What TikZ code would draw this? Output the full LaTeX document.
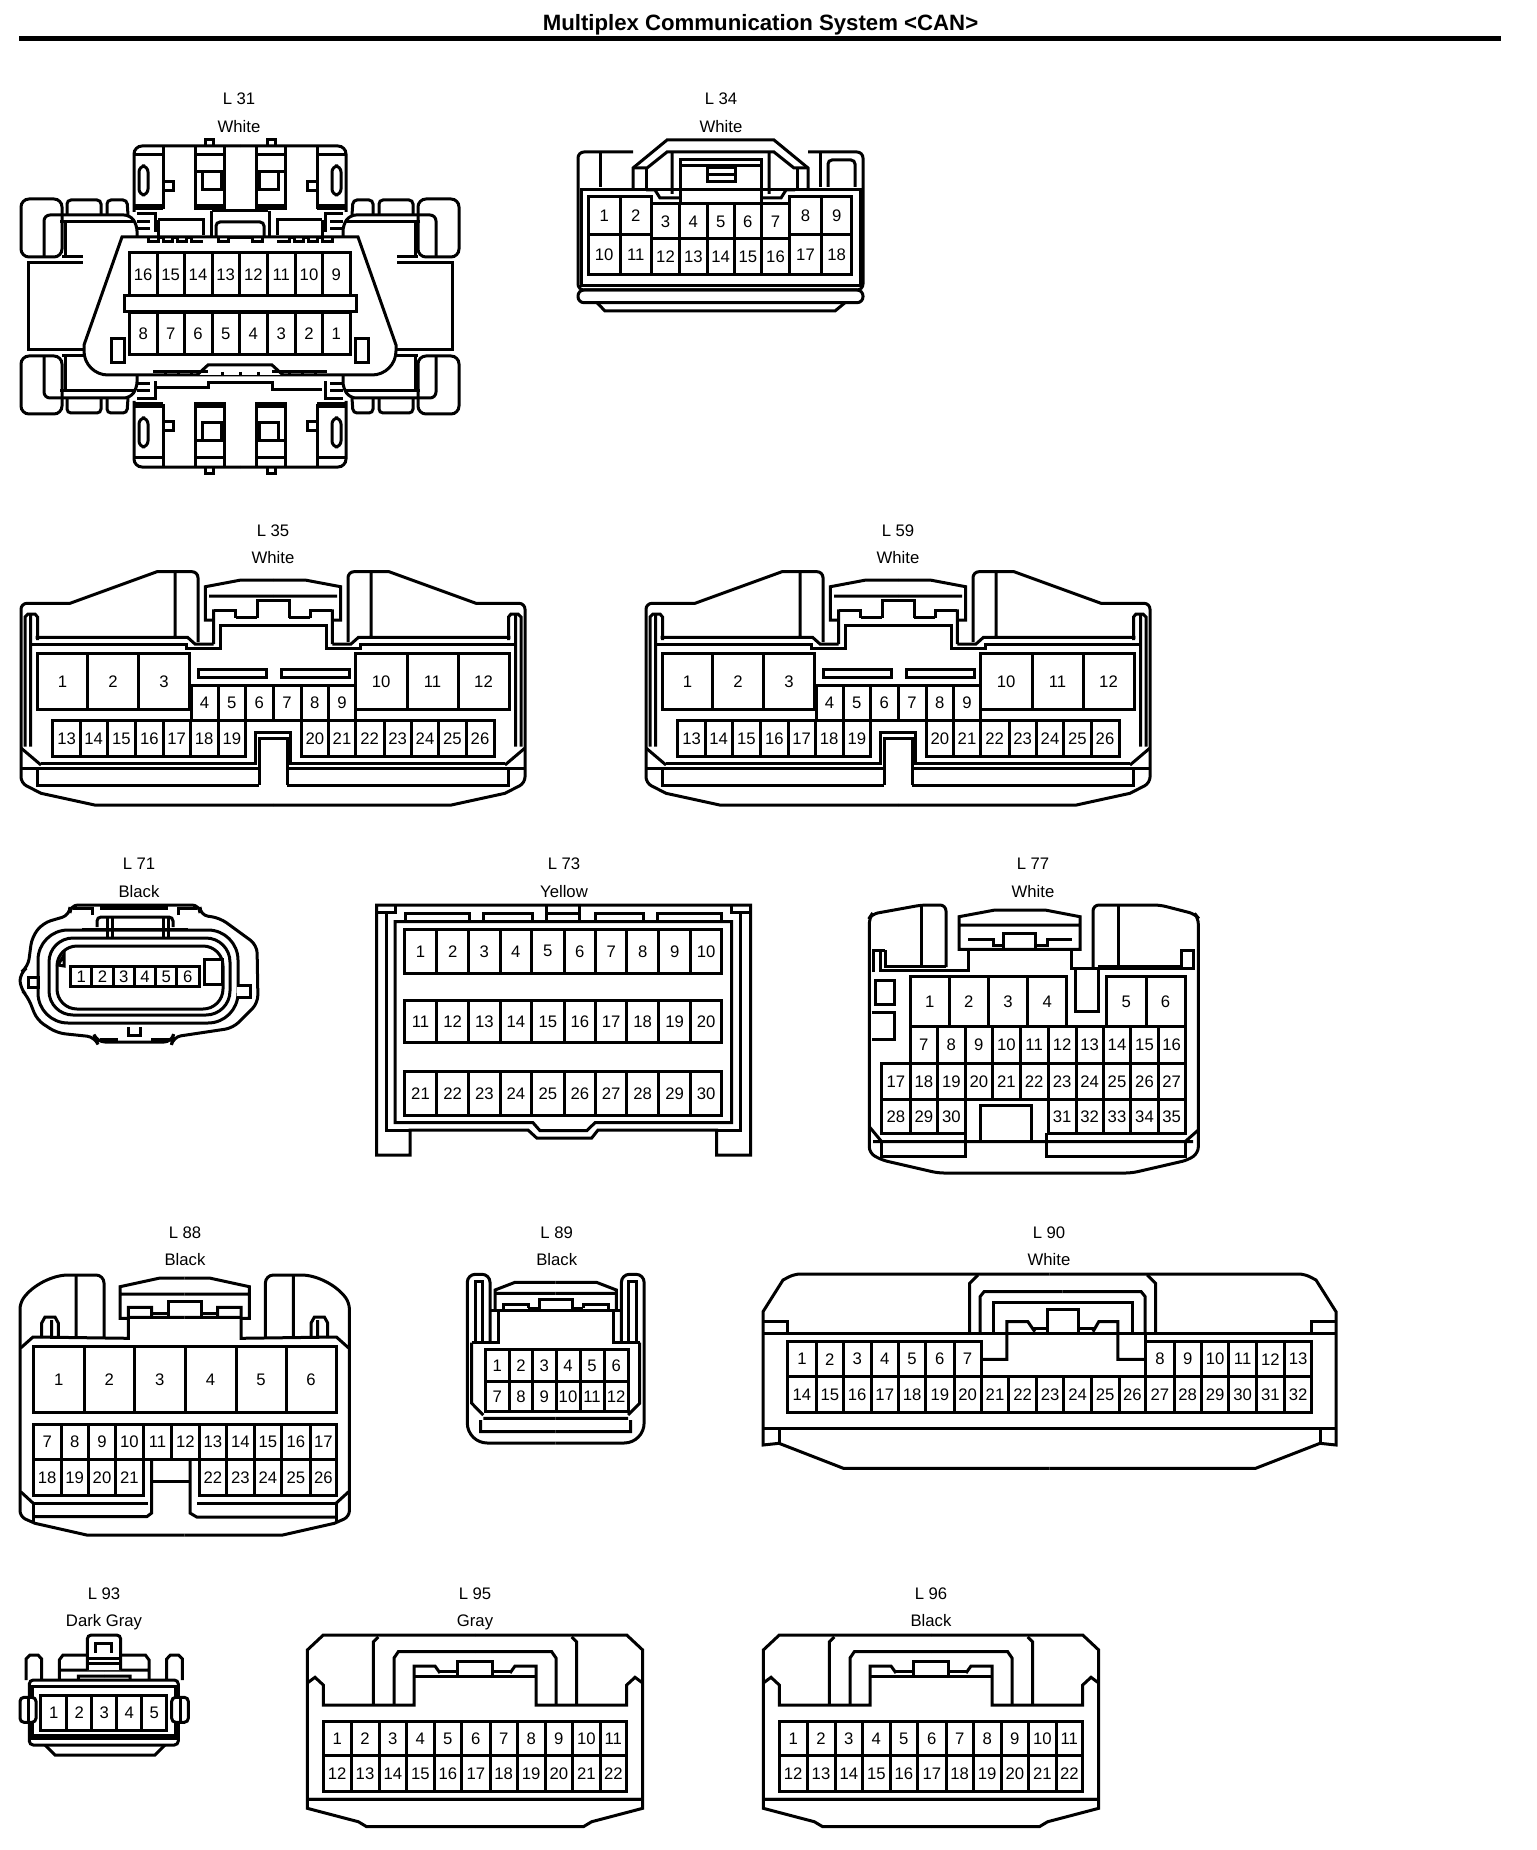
\documentclass[tikz,border=0pt]{standalone}
\usepackage{fontspec}
\setmainfont{Liberation Sans}
\tikzset{
  wire/.style={line width=1.5pt, line join=miter},
  pin/.style={draw, rectangle, inner sep=0pt, line width=1.5pt, font=\fontsize{8.35}{10}\selectfont},
  tagtext/.style={anchor=base, inner sep=0pt, font=\fontsize{8.35}{10}\selectfont},
}
% one row of pins: name, top, bottom, first number, cell borders
\newcommand{\pins}[6][1]{%
  \foreach \xb [remember=\xb as \xa (initially 0), count=\k from 0] in {#6} {
    \ifnum\k>0
      \pgfmathtruncatemacro{\num}{#5+#1*(\k-1)}
      \node[pin, minimum width={(\xb-\xa)*0.5pt}, minimum height={(#4-#3)*0.5pt}]
        (#2p\num) at ({(\xa+\xb)/2},{(#3+#4)/2}) {\num};
    \fi
  }
}
% connector number and housing colour
\newcommand{\conntag}[5]{%
  \node[tagtext] (#1name) at (#4,#5) {#2};
  \node[tagtext] (#1col) at (#4,#5+27.4) {#3};
}
% a path and its mirror image about x = #1
\newcommand{\twin}[2]{%
  \draw[wire] #2;
  \begin{scope}[shift={(2*#1,0)},xscale=-1]
    \draw[wire] #2;
  \end{scope}
}
% L31, upper left quarter
\newcommand{\quarterLthree}{%
  \draw[wire,rounded corners=4pt] (62,257) -- (21,257) -- (21,199) -- (62,199) -- cycle;
  \draw[wire,rounded corners=2pt] (67,215) -- (67,200) -- (101,200) -- (101,215);
  \draw[wire,rounded corners=2pt] (107,215) -- (107,200) -- (127,200) -- (128,215);
  \draw[wire,rounded corners=3pt] (44,257) -- (44,215) -- (130,215) -- (137,225) -- (137,237);
  \draw[wire] (60,222) -- (135,222) (65,222) -- (65,257);
  \draw[wire] (28,306.5) -- (28,263) -- (83,263) (83,257) -- (62,257);
  \draw[wire,rounded corners=4pt] (134,212) -- (134,146) -- (240,146);
  % clip blocks
  \draw[wire] (134,155) -- (163,155) (163,146) -- (163,209) (134,209) -- (163,209) (134,206) -- (163,206);
  \draw[wire,rounded corners=3pt] (139,166) rectangle (148,195);
  \draw[wire] (163,182) -- (173,182) -- (173,191) -- (163,191);
  \draw[wire] (195,146) -- (195,209) -- (224,209) -- (224,146) (195,155) -- (224,155) (195,206) -- (224,206);
  \draw[wire] (195,172) -- (224,172) (202,172) -- (202,190) -- (221,190) -- (221,172);
  \draw[wire] (205,146) -- (205,140) -- (213,140) -- (213,146);
  % latch lines
  \draw[wire] (137,214) -- (155,214) -- (155,232) (137,222) -- (150,222) (137,229) -- (150,229);
}
% L35 and L59
\newcommand{\connWide}[3]{%
  \begin{scope}[shift={(#2,0)}]
    \conntag{#1}{#3}{White}{273}{536}
    \twin{273}{(273,805) -- (94.6,805) -- (41,793.3) [rounded corners=3pt] -- (21,783) -- (21,603.3) [sharp corners] -- (70,603.3) -- (157,571.7) [rounded corners=3pt] -- (198,571.7) -- (198,642)}
    \twin{273}{(175,571.7) -- (175,637) (35.7,637.3) -- (187.5,637.3) -- (195,644) -- (213.6,644) (213.6,609.3) -- (213.6,644)}
    \twin{273}{(31.4,644) -- (186,644) -- (186,648.3) -- (220,648.3) -- (220,625) -- (273,625)}
    \twin{273}{(25,746.7) -- (25,617) -- (28,614) -- (35,614) -- (37.5,617) -- (37.5,640) (30.5,615) -- (30.5,746.7)}
    \twin{273}{(21,748) -- (41,765)}
    % lock
    \twin{273}{(273,580) -- (241,580) -- (205.4,586.7) -- (205.4,620) -- (213.6,620) (209,596) -- (273,596)}
    \twin{273}{(213.6,610) -- (235.7,610) -- (235.7,618.3) (235.7,617.3) -- (257,617.3) (273,600) -- (257,600) -- (257,618)}
    % notch and base
    \twin{273}{(41,763.3) -- (255.4,763.3) -- (255.4,732.7) -- (273,732.7) (259,785) -- (259,738.3) -- (273,738.3)}
    \twin{273}{(37.5,770) -- (37.5,785) -- (259,785) (21,768.3) -- (259,768.3)}
    \draw[wire] (198,669) rectangle (266,677.7) (281,669) rectangle (349,677.7);
    \draw[wire] (189.3,685) -- (355.4,685);
    \pins{#1}{653.3}{709.3}{1}{37.5,87.5,138.6,189.3}
    \pins{#1}{653.3}{709.3}{10}{355.4,407,458,509}
    \pins{#1}{685.7}{720}{4}{191,218,245.7,273,301,328.6,355.4}
    \pins{#1}{720}{756.7}{13}{52.9,80.4,107,135.7,163,190.4,218,245.7}
    \pins{#1}{720}{756.7}{20}{301,328.6,355.4,384,411.4,438.6,466,494}
  \end{scope}
}
% L95 and L96
\newcommand{\connSlim}[4]{%
  \begin{scope}[shift={(#2,0)}]
    \conntag{#1}{#3}{#4}{475}{1599}
    \twin{475}{(475,1635) -- (323.3,1635) -- (307.3,1650) -- (307.3,1808.3) -- (358.3,1821.7) -- (366.7,1826.7) -- (475,1826.7)}
    \twin{475}{(307.3,1799.3) -- (642.7,1799.3) (307.3,1683) -- (315,1677.3) -- (323.3,1685) -- (323.3,1705) -- (414,1705) -- (414,1666) -- (435,1666) -- (440,1673)}
    \twin{475}{(440,1671.7) -- (457.7,1671.7) (457.7,1676.7) -- (457.7,1661.7) -- (475,1661.7) (414,1676.7) -- (475,1676.7)}
    \twin{475}{(373.3,1705) -- (373.3,1642) -- (378.3,1637) (394,1705) -- (394,1658) -- (398.3,1651.7) -- (475,1651.7)}
    \pins{#1}{1721}{1755.7}{1}{323.3,351,379,406.7,434,461.7,490,517.3,545,572.7,600,626.7}
    \pins{#1}{1755.7}{1791}{12}{323.3,351,379,406.7,434,461.7,490,517.3,545,572.7,600,626.7}
  \end{scope}
}
\begin{document}
\begin{tikzpicture}[x=0.5pt,y=-0.5pt]
  \path[use as bounding box, fill=white] (0,0) rectangle (1536,1850);
  % title
  \node[font=\fontsize{11.1}{13}\selectfont\bfseries, inner sep=0pt] (title) at (760.5,25) {Multiplex Communication System <CAN>};
  \coordinate (ruleL) at (19,38.5);
  \coordinate (ruleR) at (1501,38.5);
  \draw[line width=2.4pt] (ruleL) -- (ruleR);

  % L31
  \conntag{L31}{L 31}{White}{239}{105}
  \foreach \mx/\my in {1/1,-1/1,1/-1,-1/-1} {
    \begin{scope}[shift={({240*(1-\mx)},{306.5*(1-\my)})},xscale=\mx,yscale=\my]
      \quarterLthree
    \end{scope}
  }
  \twin{240}{(212,211) -- (240,211) (211,211) -- (211,237) (158,220) -- (158,240) (158,220) -- (203,220) -- (203,235)}
  \draw[wire,rounded corners=2pt] (216,238) -- (216,222) -- (264,222) -- (264,238);
  \draw[wire,fill=white] (122,237) -- (358,237) -- (396,345) [rounded corners=12pt] -- (396,375) -- (84,375) [sharp corners] -- (84,345) -- cycle;
  \twin{240}{(148,237) -- (148,242) -- (158,242) -- (158,238) -- (163,238) -- (163,242) -- (172,242) -- (172,238) -- (177,238) -- (177,242) -- (186,242) -- (186,238) -- (191,238) -- (191,242) -- (203,242)}
  \twin{240}{(218,238) -- (218,242) -- (228,242) -- (228,238) -- (240,238)}
  \draw[wire,fill=white] (197,375) -- (208,365) -- (272,365) -- (283,375);
  \twin{240}{(153,372) -- (197,372) (197,372) -- (208,372)}
  \foreach \tick in {165,178,191,222,240,258,289,302,315} {
    \draw[wire] (\tick,372) -- (\tick,375);
  }
  \draw[wire] (157,388) -- (208,388) -- (208,383) -- (272,383) -- (272,390) -- (322,390);
  \draw[wire] (111,339) rectangle (124,363) (355,339) rectangle (368,363);
  \draw[wire,fill=white] (124,296) rectangle (356,312);
  \pins[-1]{L31}{253}{296}{16}{129,157.3,184,212,239.3,267.3,295.3,322.7,350}
  \pins[-1]{L31}{313}{355}{8}{129,157.3,184,212,239.3,267.3,295.3,322.7,350}

  % L34
  \conntag{L34}{L 34}{White}{721}{105}
  \draw[wire,rounded corners=3pt] (633,152) -- (578,152) -- (578,290) -- (863,290) -- (863,152) -- (808,152);
  \draw[wire,rounded corners=3pt] (578,290) rectangle (863,302.7);
  \draw[wire] (597,302.7) -- (605,311) -- (835,311) -- (845,302.7);
  \draw[wire] (581,190) rectangle (860,285.5);
  \draw[wire] (633,190) -- (633,168) -- (667,140) -- (774,140) -- (808,168) -- (808,190);
  \draw[wire] (633,168) -- (647,168) -- (667,152) -- (774,152) -- (794,168) -- (808,168);
  \draw[wire] (646,168) -- (646,190) (797,168) -- (797,190) (600,152) -- (600,187) (820,152) -- (820,187);
  \draw[wire,rounded corners=2pt] (828,187) -- (828,160) -- (855,160) -- (855,187);
  \twin{720.5}{(646,190) -- (655,190) -- (660,198) -- (680,198) (672,152) -- (672,194)}
  \draw[wire] (680,202) -- (680,160) -- (761,160) -- (761,202) (680,166) -- (761,166);
  \draw[wire] (707,168) rectangle (735,182) (707,175) -- (735,175);
  \draw[wire] (651.7,204) -- (789.3,204);
  \pins{L34}{196.7}{235}{1}{588.3,620,651.7}
  \pins{L34}{204}{239}{3}{651.7,679.3,707.3,734,761.7,789.3}
  \pins{L34}{196.7}{235}{8}{789.3,821.7,851.7}
  \pins{L34}{235}{275}{10}{588.3,620,651.7}
  \pins{L34}{239}{275}{12}{651.7,679.3,707.3,734,761.7,789.3}
  \pins{L34}{235}{275}{17}{789.3,821.7,851.7}

  % L35, L59
  \connWide{L35}{0}{L 35}
  \connWide{L59}{625}{L 59}

  % L71
  \conntag{L71}{L 71}{Black}{139}{869.9}
  \draw[wire,rounded corners=4pt] (70,915) -- (70,905) -- (200,905) -- (200,915) -- (220,918) -- (257,945) -- (258,1003) -- (233,1028) -- (173,1037) -- (172,1042) -- (97,1042) -- (95,1037) -- (57,1033) -- (37,1020) -- (28,997) -- (20,988) -- (20,973) -- (28,967) -- (32,937) -- (43,923) -- cycle;
  \draw[wire,rounded corners=15pt] (38,930) rectangle (238,1023);
  \draw[wire,rounded corners=12pt] (49,938) rectangle (230,1015);
  \draw[wire,rounded corners=10pt] (57,946) rectangle (223,1009);
  \draw[wire,fill=white] (237,985) -- (250,985) -- (250,997) -- (237,997);
  \draw[wire] (58,965) -- (64,955) -- (64,966) -- cycle;
  \draw[wire,rounded corners=2pt] (97,927) -- (97,917) -- (173,917) -- (173,927);
  \draw[wire] (83,930) -- (83,929) -- (186,929) -- (186,930) (107,917) -- (107,937) (112,917) -- (112,937) (163,917) -- (163,937) (168,917) -- (168,937);
  \draw[wire] (73,908) -- (92,908) -- (92,915) (178,915) -- (178,908) -- (197,908);
  \draw[line width=2.4pt] (100,908) -- (168,908);
  \draw[wire] (28,977) rectangle (38,987);
  \draw[wire,fill=white] (204,959) rectangle (222,984);
  \draw[wire] (128,1027) -- (128,1035) -- (140,1035) -- (140,1027);
  \draw[wire] (100,1039) -- (118,1039) (151,1039) -- (170,1039);
  \pins{L71}{966}{986.7}{1}{70.7,91.7,113.3,134.3,155.7,176.7,199}

  % L73
  \conntag{L73}{L 73}{Yellow}{564}{869.9}
  \draw[wire] (376.7,905) -- (750.7,905) -- (750.7,1155) -- (716.7,1155) -- (716.7,1130) -- (598,1130) -- (591.7,1138) -- (536.7,1138) -- (528,1130) -- (410,1130) -- (410,1155) -- (376.7,1155) -- cycle;
  \draw[wire] (376.7,912.7) -- (395,912.7) -- (395,905) (731.7,905) -- (731.7,912.7) -- (750.7,912.7) (386,913) -- (386,1130) -- (410,1130) (740.7,913) -- (740.7,1130) -- (716.7,1130);
  \draw[wire] (395,921.7) -- (731.7,921.7) -- (731.7,1122.7) -- (595,1122.7) -- (586.7,1130.7) -- (540,1130.7) -- (533,1122.7) -- (395,1122.7) -- cycle;
  \foreach \xa/\xb in {405/469.3,483.3/532.3,595/643.3,657.3/721.7} {
    \draw[wire] (\xa,921.7) -- (\xa,913.3) -- (\xb,913.3) -- (\xb,921.7);
  }
  \draw[wire] (546.7,905) -- (546.7,921.7) (579.3,905) -- (579.3,921.7) (546.7,913.3) -- (579.3,913.3);
  \pins{L73}{929.3}{973.3}{1}{404.3,436.7,468.7,500,531.7,564,595.7,626.7,658.7,690.7,721.7}
  \pins{L73}{1000.7}{1042.7}{11}{404.3,436.7,468.7,500,531.7,564,595.7,626.7,658.7,690.7,721.7}
  \pins{L73}{1071.7}{1115}{21}{404.3,436.7,468.7,500,531.7,564,595.7,626.7,658.7,690.7,721.7}

  % L77
  \conntag{L77}{L 77}{White}{1033}{869.9}
  \draw[wire,rounded corners=3pt] (946,967) -- (946,905) -- (921.7,905) -- (872,914) -- (869.3,918) -- (869.3,1153) -- (881.7,1160) -- (938,1173) -- (1131.7,1173) -- (1188,1160) -- (1198.3,1153) -- (1198.3,918) -- (1195,914) -- (1160,905) -- (1093,905) -- (1093,968);
  \draw[wire] (921.7,905) -- (921.7,966) (1118,905) -- (1118,966);
  \draw[wire] (959,949.3) -- (959,916.7) -- (995,910) -- (1045,910) -- (1080,916.7) -- (1080,949.3) -- cycle (959,925) -- (1080,925);
  \draw[wire] (968.3,949) -- (968.3,970) -- (880.7,970) -- (880.7,950) (885,950) -- (885,966) -- (946,966);
  \draw[wire] (873.3,972) -- (873.3,950) -- (885,950);
  \draw[wire] (968.3,939) -- (993,939) -- (993,947) (1071.7,939) -- (1047,939) -- (1047,947) (993,945) -- (1003,945) (1037,945) -- (1047,945);
  \draw[wire] (1003,949) -- (1003,933) -- (1035,933) -- (1035,949);
  \draw[wire] (1071.7,949) -- (1071.7,968.3) -- (1193.3,968.3) -- (1193.3,950) -- (1181.7,950) -- (1181.7,968) (1098,966) -- (1181.7,966);
  \draw[wire] (1075,968.3) -- (1075,1011.7) -- (1098,1011.7) -- (1098,968.3);
  \draw[wire] (875,980.7) rectangle (894,1004);
  \draw[wire] (871.7,1012.7) -- (894,1012.7) -- (894,1039) -- (871.7,1039);
  \draw[wire] (1066.7,1026.7) -- (1106.7,1026.7);
  \draw[wire] (980.7,1141.7) -- (980.7,1105) -- (1031.7,1105) -- (1031.7,1141.7);
  \draw[wire] (873,1141.7) -- (1193,1141.7) (869.3,1126.7) -- (881.7,1141.7) (1198.3,1130) -- (1185,1141.7);
  \draw[wire] (881.7,1143) -- (881.7,1156.7) -- (965,1156.7) -- (965,1133) (1046.7,1133) -- (1046.7,1156.7) -- (1185,1156.7) -- (1185,1141.7);
  \draw[wire] (965,1099.3) -- (1046.7,1099.3);
  \pins{L77}{976.7}{1026.7}{1}{910,949.3,988.3,1027.7,1066.7}
  \pins{L77}{976.7}{1026.7}{5}{1106.7,1146,1185}
  \pins{L77}{1026.7}{1063.3}{7}{910,937.7,965,992.7,1020,1048.3,1076,1103.3,1130.7,1158.3,1185}
  \pins{L77}{1063.3}{1099.3}{17}{881.7,910,937.7,965,992.7,1020,1048.3,1076,1103.3,1130.7,1158.3,1185}
  \pins{L77}{1099.3}{1133.3}{28}{881.7,910,937.7,965}
  \pins{L77}{1099.3}{1133.3}{31}{1048.3,1076,1103.3,1130.7,1158.3,1185}

  % L88
  \conntag{L88}{L 88}{Black}{185}{1238.2}
  \twin{184.7}{(184.7,1535) -- (86.7,1535) -- (35,1523.3) [rounded corners=3pt] -- (20,1516.7) -- (20,1303) [rounded corners=14pt] -- (40,1275) [rounded corners=4pt] -- (104,1275) -- (104,1338)}
  \twin{184.7}{(76,1275) -- (76,1338) (20.7,1348) -- (33,1337) -- (128.3,1338.3) -- (128.3,1307.3) -- (151.7,1307.3) -- (151.7,1317)}
  \twin{184.7}{(41.7,1338) -- (41.7,1323) -- (45,1317) -- (55,1317) -- (58.3,1323) -- (58.3,1338) (51.7,1320) -- (51.7,1338)}
  \twin{184.7}{(184.7,1278) -- (160,1278) -- (120,1286.7) -- (120,1318.3) -- (128.3,1318.3) (120,1294) -- (184.7,1294) (128,1317.3) -- (184.7,1317.3)}
  \twin{184.7}{(151.7,1313.3) -- (168.3,1313.3) (168.3,1317) -- (168.3,1301.7) -- (184.7,1301.7)}
  \draw[wire] (151.7,1460) -- (151.7,1513) -- (146.7,1516.7) -- (35,1516.7);
  \draw[wire] (190,1460) -- (190,1513) -- (196.7,1517) -- (336,1517);
  \draw[wire] (151.7,1481.7) -- (190,1481.7);
  \draw[wire] (33.3,1523) -- (33.3,1503.3) -- (148,1503.3) (336,1523) -- (336,1503.3) -- (196.7,1503.3);
  \draw[wire] (20.7,1491.7) -- (33.3,1503.3) (348.7,1491.7) -- (336,1503.3);
  \pins{L88}{1346}{1412.7}{1}{33.3,84,134.3,185,236,286,336}
  \pins{L88}{1424.3}{1459.3}{7}{33.3,61,88.3,115.7,143.3,171.7,199,226.7,254,281.7,310,336.7}
  \pins{L88}{1459.3}{1495.7}{18}{33.3,61,88.3,115.7,143.3}
  \pins{L88}{1459.3}{1495.7}{22}{199,226.7,254,281.7,310,336.7}

  % L89
  \conntag{L89}{L 89}{Black}{556.7}{1238.2}
  \twin{555.7}{(555.7,1443) -- (490,1443) [rounded corners=10pt] -- (467.3,1443) [rounded corners=4pt] -- (467.3,1274.3) -- (490,1274.3) -- (490,1342.7)}
  \twin{555.7}{(475,1342) -- (475,1281.7) -- (482.7,1281.7) -- (482.7,1342) (471.7,1342.7) -- (498,1342.7) -- (498,1310) (490,1310) -- (555.7,1310)}
  \twin{555.7}{(555.7,1282.3) -- (515,1282.3) -- (495,1290) -- (495,1310) (495,1293.3) -- (555.7,1293.3)}
  \twin{555.7}{(503.3,1310) -- (503.3,1304) -- (528.3,1304) -- (528.3,1308) (528.3,1308) -- (539.3,1308) (539.3,1310) -- (539.3,1299) -- (555.7,1299)}
  \twin{555.7}{(471.7,1342.7) -- (471.7,1403.3) -- (483.3,1415) (480.7,1420) -- (480.7,1431.7) -- (555.7,1431.7) (483.3,1418.3) -- (555.7,1418.3)}
  \pins{L89}{1349.3}{1381.7}{1}{485,509.3,532.7,556,580,604,628.3}
  \pins{L89}{1381.7}{1411.7}{7}{485,509.3,532.7,556,580,604,628.3}

  % L90
  \conntag{L90}{L 90}{White}{1049}{1238.2}
  \twin{1049.5}{(1049.5,1468.3) -- (843.4,1468.3) -- (779,1443.3) -- (763,1445) -- (763,1311.7) -- (783,1280) [rounded corners=3pt] -- (794.4,1274) -- (1049.5,1274)}
  \draw[wire] (763,1428.3) -- (1336,1428.3) (763,1333.3) -- (993.4,1333.3) (1132,1333.3) -- (1336,1333.3);
  \twin{1049.5}{(779,1428.3) -- (779,1443.3) (763,1321.7) -- (787.6,1321.7) -- (787.6,1333.3)}
  \twin{1062.6}{(969.7,1333.3) -- (969.7,1283.3) -- (978,1275) (980,1333.3) -- (980,1296.7) -- (984,1291.7) -- (1062.6,1291.7)}
  \draw[wire] (993.4,1302.7) rectangle (1132,1333.3);
  \draw[wire] (1145.2,1333.3) -- (1145.2,1342);
  \draw[wire] (982,1359.3) -- (1006.8,1359.3) -- (1006.8,1321.7) -- (1027.9,1321.7) -- (1034.8,1331.7);
  \draw[wire] (1145.8,1359.3) -- (1117.8,1359.3) -- (1117.8,1321.7) -- (1098.7,1321.7) -- (1093,1331.7);
  \draw[wire] (1032,1328.3) -- (1047,1328.3) (1078.4,1328.3) -- (1095,1328.3);
  \draw[wire] (1047,1333.3) -- (1047,1309.3) -- (1078.4,1309.3) -- (1078.4,1333.3);
  \pins{L90}{1341.7}{1376.7}{1}{787.6,816.3,843.4,871,898.5,925.7,954,981.2}
  \pins{L90}{1341.7}{1376.7}{8}{1145.8,1174,1201.3,1228.8,1256.4,1284.3,1311.9}
  \pins{L90}{1376.7}{1412.7}{14}{787.6,816.3,843.4,871,898.5,925.7,954,981.2,1008.8,1036.3,1063.9,1091.4,1119,1145.8,1174,1201.3,1228.8,1256.4,1284.3,1311.9}

  % L93
  \conntag{L93}{L 93}{Dark Gray}{104}{1599}
  \draw[wire,rounded corners=2pt] (29.3,1680) rectangle (178.3,1745);
  \draw[wire] (29.3,1738) -- (178.3,1738);
  \draw[wire] (32.7,1686) rectangle (175,1735.7);
  \draw[wire] (45,1745) -- (55,1755) -- (155,1755) -- (165,1745);
  \twin{104.2}{(26,1680) -- (26,1659) -- (30,1655) -- (38,1655) -- (41.7,1659) -- (41.7,1680)}
  \twin{104.2}{(59.3,1680) -- (59.3,1660) -- (63,1655) -- (104.2,1655) (59.3,1670) -- (104.2,1670) (78.3,1680) -- (78.3,1676) -- (104.2,1676)}
  \draw[wire,fill=white,rounded corners=2pt] (87.3,1670) -- (87.3,1635) -- (120.7,1635) -- (120.7,1670);
  \draw[wire] (95,1653) -- (95,1643) -- (111.7,1643) -- (111.7,1653) (87.3,1658) -- (120.7,1658) (87.3,1663) -- (120.7,1663);
  \draw[wire,fill=white,rounded corners=2pt] (20,1697.3) rectangle (36,1722.3);
  \draw[wire,fill=white,rounded corners=2pt] (171.7,1697.3) rectangle (188.3,1722.3);
  \draw[wire] (28,1697.3) -- (28,1722.3) (180,1697.3) -- (180,1722.3);
  \pins{L93}{1695}{1730.7}{1}{40.7,66.7,91.7,116.7,141.7,166.7}

  % L95, L96
  \connSlim{L95}{0}{L 95}{Gray}
  \connSlim{L96}{456}{L 96}{Black}
\end{tikzpicture}
\end{document}
